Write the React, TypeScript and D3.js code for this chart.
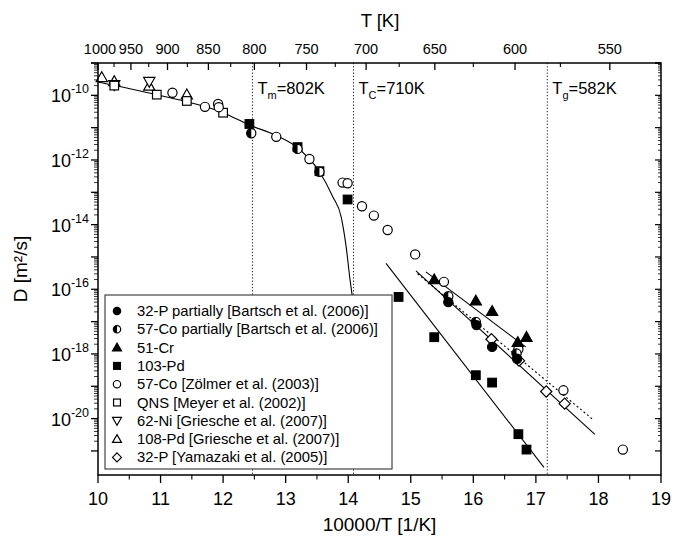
import React from "react";
import * as d3 from "d3";

// 10000/T [1/K] , D [m^2/s]
const cr51 = [[15.375, 2.0e-16], [16.04, 4.4e-17], [16.30, 2.1e-17], [16.71, 2.3e-18], [16.85, 3.3e-18]];
const pd103 = [[12.42, 1.3e-11], [13.19, 2.5e-12], [13.54, 4.5e-13], [13.99, 6.0e-14], [14.805, 5.8e-17],
  [15.375, 3.3e-18], [16.04, 2.2e-19], [16.30, 1.3e-19], [16.72, 3.3e-21], [16.85, 1.1e-21]];
const p32Bartsch = [[15.60, 4.0e-17], [16.05, 7.8e-18], [16.30, 1.65e-18], [16.70, 7.1e-19]];
const co57Bartsch = [[12.45, 6.7e-12], [13.19, 2.2e-12], [13.54, 4.3e-13], [15.60, 6.1e-17], [16.04, 9.8e-18], [16.69, 1.03e-18]];
const co57Zoelmer = [[11.19, 1.2e-10], [11.71, 4.4e-11], [11.92, 5.4e-11], [11.93, 4.3e-11], [12.85, 5.2e-12],
  [13.38, 1.07e-12], [13.91, 2.0e-13], [13.99, 1.9e-13], [14.22, 3.7e-14], [14.41, 1.9e-14], [14.63, 6.8e-15],
  [15.07, 1.2e-15], [15.53, 1.7e-16], [16.72, 1.4e-18], [17.44, 7.5e-20], [18.39, 1.1e-21]];
const qns = [[10.26, 2.0e-10], [10.94, 1.05e-10], [11.42, 6.7e-11], [12.0, 2.9e-11]];
const ni62 = [[10.26, 2.1e-10], [10.82, 2.65e-10]];
const pd108 = [[10.06, 3.6e-10], [10.26, 2.7e-10], [10.82, 1.95e-10], [11.42, 1.05e-10]];
const p32Yamazaki = [[16.29, 2.85e-18], [16.73, 6.2e-19], [17.165, 6.9e-20], [17.46, 2.9e-20]];

// fit lines
const meltCurve = [[10.0, 2.58e-10], [10.936, 1.04e-10], [11.998, 2.89e-11], [12.424, 1.2e-11], [12.85, 5.7e-12],
  [13.169, 2.56e-12], [13.54, 4.3e-13], [13.753, 7.3e-14], [13.887, 1.74e-14], [13.967, 2.06e-15],
  [14.03, 1.9e-16], [14.067, 5.7e-17]];
const pdFit = [[14.604, 6.3e-16], [17.129, 3.1e-22]];
const crFit = [[15.242, 3.46e-16], [16.837, 1.65e-18]];
const pFit = [[15.083, 3.7e-16], [17.943, 3.27e-21]];
const coFit = [[15.108, 3.04e-16], [17.927, 8.85e-21]];

const tempTicks = [1000, 950, 900, 850, 800, 750, 700, 650, 600, 550];
const tempMinor = [975, 925, 875, 825, 775, 725, 675, 625, 575];
const transitions = [
  { T: 802, sym: "T", sub: "m", label: "=802K" },
  { T: 710, sym: "T", sub: "C", label: "=710K" },
  { T: 582, sym: "T", sub: "g", label: "=582K" },
];
const yLabelExp = [-10, -12, -14, -16, -18, -20];

const series = [
  { name: "32-P partially [Bartsch et al. (2006)]", mark: "fcircle", data: p32Bartsch },
  { name: "57-Co partially [Bartsch et al. (2006)]", mark: "hcircle", data: co57Bartsch },
  { name: "51-Cr", mark: "ftri", data: cr51 },
  { name: "103-Pd", mark: "fsq", data: pd103 },
  { name: "57-Co  [Zölmer et al. (2003)]", mark: "circle", data: co57Zoelmer },
  { name: "QNS [Meyer et al. (2002)]", mark: "sq", data: qns },
  { name: "62-Ni [Griesche et al. (2007)]", mark: "dtri", data: ni62 },
  { name: "108-Pd [Griesche et al. (2007)]", mark: "tri", data: pd108 },
  { name: "32-P [Yamazaki et al. (2005)]", mark: "diamond", data: p32Yamazaki },
];

const W = 684, H = 536;
const L = 98, R = 661, T0 = 63, B = 475;
const font = "Liberation Sans, Arial, Helvetica, sans-serif";

function Marker({ mark, x, y, s = 1 }: { mark: string; x: number; y: number; s?: number }) {
  const sw = 1.2;
  const r = 4.6 * s;
  switch (mark) {
    case "circle":
      return <circle cx={x} cy={y} r={r} fill="white" stroke="black" strokeWidth={sw} />;
    case "fcircle":
      return <circle cx={x} cy={y} r={r} fill="black" stroke="black" strokeWidth={sw} />;
    case "hcircle":
      return (
        <g>
          <circle cx={x} cy={y} r={r} fill="white" stroke="black" strokeWidth={sw} />
          <path d={`M${x},${y - r}A${r},${r} 0 0 0 ${x},${y + r}Z`} fill="black" />
        </g>
      );
    case "fsq":
    case "sq": {
      const a = 4.3 * s;
      return <rect x={x - a} y={y - a} width={2 * a} height={2 * a}
        fill={mark === "fsq" ? "black" : "white"} stroke="black" strokeWidth={sw} />;
    }
    case "ftri":
    case "tri": {
      const a = 5.6 * s;
      return <path d={`M${x},${y - a}L${x + a},${y + a * 0.75}L${x - a},${y + a * 0.75}Z`}
        fill={mark === "ftri" ? "black" : "white"} stroke="black" strokeWidth={sw} />;
    }
    case "dtri": {
      const a = 5.6 * s;
      return <path d={`M${x},${y + a}L${x + a},${y - a * 0.75}L${x - a},${y - a * 0.75}Z`}
        fill="white" stroke="black" strokeWidth={sw} />;
    }
    case "diamond": {
      const a = 5.6 * s;
      return <path d={`M${x},${y - a}L${x + a},${y}L${x},${y + a}L${x - a},${y}Z`}
        fill="white" stroke="black" strokeWidth={sw} />;
    }
  }
  return null;
}

export default function App() {
  const x = d3.scaleLinear().domain([10, 19]).range([L, R]);
  const y = d3.scaleLog().domain([1.8e-22, 1e-9]).range([B, T0]);

  const line = d3.line<number[]>().x(d => x(d[0])).y(d => y(d[1]));
  const curve = d3.line<number[]>().x(d => x(d[0])).y(d => y(d[1])).curve(d3.curveMonotoneX);

  const xMajor = d3.range(10, 19.01, 1);
  const xMinor = d3.range(10.5, 19, 1);
  const decades = d3.range(-21, -8);
  const yMinor: number[] = [];
  decades.forEach(e => {
    for (let k = 2; k < 10; k++) {
      const v = k * Math.pow(10, e);
      if (v >= 1.8e-22 && v <= 1e-9) yMinor.push(v);
    }
  });
  const yMajor = decades.map(e => Math.pow(10, e)).concat([1e-9]);

  const legendRows = series.map((s, i) => ({ ...s, yy: 311 + i * 18.3 }));

  return (
    <svg width={W} height={H} style={{ position: "absolute", left: 0, top: 0, background: "white" }}
      fontFamily={font}>
      <rect width={W} height={H} fill="white" />

      {/* transition lines */}
      {transitions.map(t => (
        <line key={t.T} x1={x(10000 / t.T)} x2={x(10000 / t.T)} y1={T0} y2={B}
          stroke="black" strokeWidth={0.9} strokeDasharray="1.2,2" />
      ))}
      {transitions.map(t => (
        <text key={"l" + t.T} x={x(10000 / t.T) + 5} y={94} fontSize={16.5}>
          {t.sym}
          <tspan fontSize={11} dy={5}>{t.sub}</tspan>
          <tspan dy={-5}>{t.label}</tspan>
        </text>
      ))}

      {/* fit lines */}
      <path d={curve(meltCurve) || ""} fill="none" stroke="black" strokeWidth={1.1} />
      <path d={line(pdFit) || ""} fill="none" stroke="black" strokeWidth={1.1} />
      <path d={line(crFit) || ""} fill="none" stroke="black" strokeWidth={1.1} />
      <path d={line(pFit) || ""} fill="none" stroke="black" strokeWidth={1.1} />
      <path d={line(coFit) || ""} fill="none" stroke="black" strokeWidth={1.1} strokeDasharray="2,2.5" />

      {/* points */}
      {series.slice().reverse().map(s => (
        <g key={s.name}>
          {s.data.map((d, i) => <Marker key={i} mark={s.mark} x={x(d[0])} y={y(d[1])} />)}
        </g>
      ))}

      {/* frame */}
      <rect x={L} y={T0} width={R - L} height={B - T0} fill="none" stroke="black" strokeWidth={1.5} />

      {/* bottom axis */}
      {xMajor.map(v => <line key={v} x1={x(v)} x2={x(v)} y1={B} y2={B + 8} stroke="black" strokeWidth={1.3} />)}
      {xMinor.map(v => <line key={v} x1={x(v)} x2={x(v)} y1={B} y2={B + 4.5} stroke="black" strokeWidth={1.1} />)}
      {xMajor.map(v => (
        <text key={v} x={x(v)} y={505} fontSize={18} textAnchor="middle">{v}</text>
      ))}
      <text x={(L + R) / 2} y={531} fontSize={19} textAnchor="middle">10000/T [1/K]</text>

      {/* top axis */}
      {tempTicks.map(t => <line key={t} x1={x(10000 / t)} x2={x(10000 / t)} y1={T0} y2={T0 + 7} stroke="black" strokeWidth={1.3} />)}
      {tempMinor.map(t => <line key={t} x1={x(10000 / t)} x2={x(10000 / t)} y1={T0} y2={T0 + 4} stroke="black" strokeWidth={1.1} />)}
      {tempTicks.map((t, i) => (
        <text key={t} x={x(10000 / t) + (i === 0 ? 2 : 0)} y={54} fontSize={14.5} textAnchor="middle">{t}</text>
      ))}
      <text x={380} y={27} fontSize={18.5} textAnchor="middle">T [K]</text>

      {/* left axis */}
      {yMajor.map(v => <line key={v} x1={L - 7} x2={L} y1={y(v)} y2={y(v)} stroke="black" strokeWidth={1.3} />)}
      {yMinor.map(v => <line key={v} x1={L - 4} x2={L} y1={y(v)} y2={y(v)} stroke="black" strokeWidth={0.8} />)}
      {yMinor.map(v => <line key={"r" + v} x1={R - 3} x2={R} y1={y(v)} y2={y(v)} stroke="black" strokeWidth={0.8} />)}
      {yMajor.map(v => <line key={"r" + v} x1={R - 6} x2={R} y1={y(v)} y2={y(v)} stroke="black" strokeWidth={1.2} />)}
      {yLabelExp.map(e => (
        <text key={e} x={89} y={y(Math.pow(10, e)) + 7} fontSize={18} textAnchor="end">
          10<tspan fontSize={12.5} dy={-9}>{e}</tspan>
        </text>
      ))}
      <text transform={`translate(27,${(T0 + B) / 2}) rotate(-90)`} fontSize={19} textAnchor="middle">D [m²/s]</text>

      {/* legend */}
      <rect x={105} y={295} width={287} height={174} fill="white" stroke="#444" strokeWidth={1.2} />
      {legendRows.map(s => (
        <g key={s.name}>
          <Marker mark={s.mark} x={117} y={s.yy} s={0.8} />
          <text x={137} y={s.yy + 5} fontSize={14.8}>{s.name}</text>
        </g>
      ))}
    </svg>
  );
}
